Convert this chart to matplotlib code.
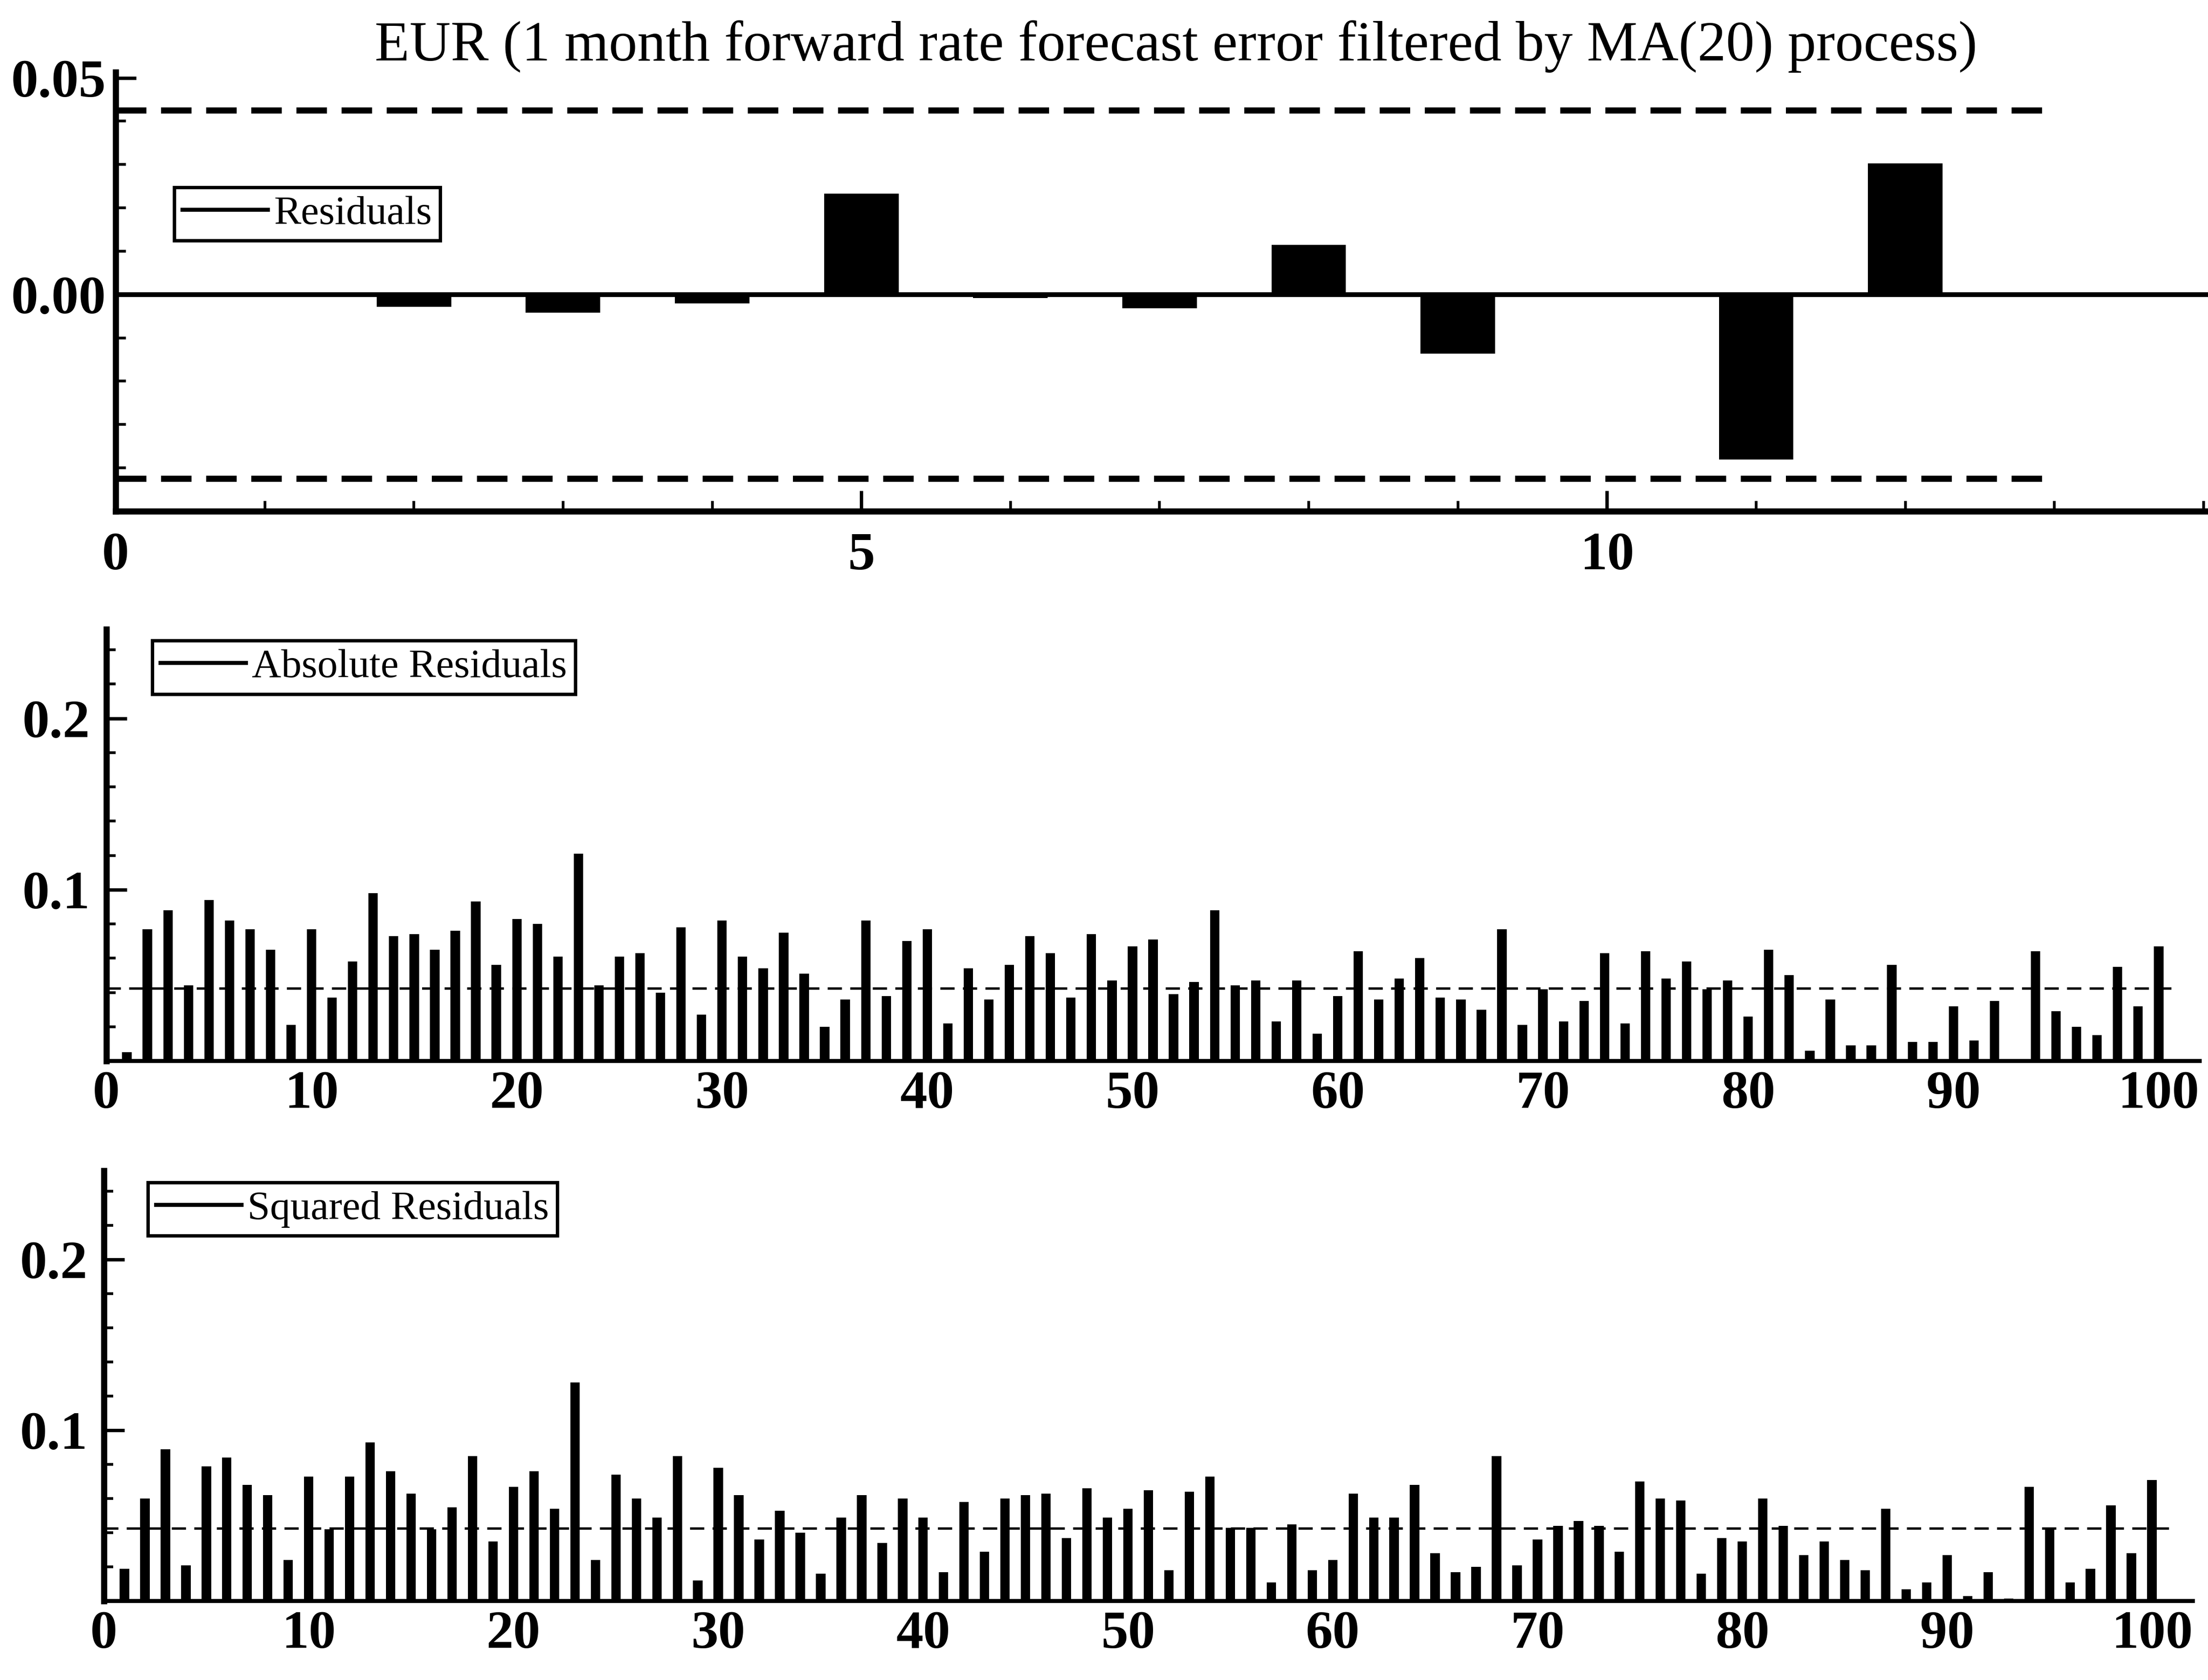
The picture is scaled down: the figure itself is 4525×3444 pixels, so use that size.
import matplotlib
matplotlib.use("Agg")
import matplotlib.pyplot as plt
from matplotlib.lines import Line2D
from matplotlib.ticker import MultipleLocator, FixedLocator, NullFormatter

plt.rcParams['font.family'] = ['Liberation Serif', 'DejaVu Serif']

TITLE = "EUR (1 month forward rate forecast error filtered by MA(20) process)"

# confidence band drawn as dashed lines
CONF_BAND = 0.0425

# residual autocorrelations, lags 1..13
resid_lags = list(range(1, 14))
resid_acf = [0.0003, -0.0028, -0.0042, -0.0020, 0.0233, -0.0008, -0.0032,
             0.0114, -0.0137, 0.0004, -0.0381, 0.0303, 0.0002]

# autocorrelations of absolute / squared residuals, lags 1..100
lags = list(range(1, 101))
abs_acf = [0.005, 0.077, 0.088, 0.044, 0.094, 0.082, 0.077, 0.065, 0.021, 0.077,
           0.037, 0.058, 0.098, 0.073, 0.074, 0.065, 0.076, 0.093, 0.056, 0.083,
           0.080, 0.061, 0.121, 0.044, 0.061, 0.063, 0.040, 0.078, 0.027, 0.082,
           0.061, 0.054, 0.075, 0.051, 0.020, 0.036, 0.082, 0.038, 0.070, 0.077,
           0.022, 0.054, 0.036, 0.056, 0.073, 0.063, 0.037, 0.074, 0.047, 0.067,
           0.071, 0.039, 0.046, 0.088, 0.044, 0.047, 0.023, 0.047, 0.016, 0.038,
           0.064, 0.036, 0.048, 0.060, 0.037, 0.036, 0.030, 0.077, 0.021, 0.042,
           0.023, 0.035, 0.063, 0.022, 0.064, 0.048, 0.058, 0.042, 0.047, 0.026,
           0.065, 0.050, 0.006, 0.036, 0.009, 0.009, 0.056, 0.011, 0.011, 0.032,
           0.012, 0.035, 0.001, 0.064, 0.029, 0.020, 0.015, 0.055, 0.032, 0.067]
sq_acf = [0.019, 0.060, 0.089, 0.021, 0.079, 0.084, 0.068, 0.062, 0.024, 0.073,
          0.042, 0.073, 0.093, 0.076, 0.063, 0.042, 0.055, 0.085, 0.035, 0.067,
          0.076, 0.054, 0.128, 0.024, 0.074, 0.060, 0.049, 0.085, 0.012, 0.078,
          0.062, 0.036, 0.053, 0.040, 0.016, 0.049, 0.062, 0.034, 0.060, 0.049,
          0.017, 0.058, 0.029, 0.060, 0.062, 0.063, 0.037, 0.066, 0.049, 0.054,
          0.065, 0.018, 0.064, 0.073, 0.043, 0.043, 0.011, 0.045, 0.018, 0.024,
          0.063, 0.049, 0.049, 0.068, 0.028, 0.017, 0.020, 0.085, 0.021, 0.036,
          0.044, 0.047, 0.044, 0.029, 0.070, 0.060, 0.059, 0.016, 0.037, 0.035,
          0.060, 0.044, 0.027, 0.035, 0.024, 0.018, 0.054, 0.007, 0.011, 0.027,
          0.003, 0.017, 0.0015, 0.067, 0.043, 0.011, 0.019, 0.056, 0.028, 0.071]

W, H, DPI = 4525, 3444, 100
fig = plt.figure(figsize=(W / DPI, H / DPI), dpi=DPI)
fig.patch.set_facecolor('white')


def px_rect(left, right, top, bottom):
    return [left / W, 1 - bottom / H, (right - left) / W, (bottom - top) / H]


TICK_FS = 80
LEG_FS = 60


def style_axes(ax, spine_lw=9):
    for s in ('top', 'right'):
        ax.spines[s].set_visible(False)
    ax.spines['left'].set_linewidth(spine_lw)
    ax.spines['bottom'].set_linewidth(spine_lw)
    ax.set_facecolor('white')
    for lab in ax.get_xticklabels() + ax.get_yticklabels():
        lab.set_fontweight('bold')
        lab.set_fontsize(TICK_FS)


def add_legend(ax, label, anchor):
    handle = Line2D([], [], color='black', lw=6)
    leg = ax.legend([handle], [label], loc='upper left', bbox_to_anchor=anchor,
                    frameon=True, fancybox=False, edgecolor='black', framealpha=1,
                    fontsize=LEG_FS, handlelength=2.1, handletextpad=0.15,
                    borderpad=0.2, borderaxespad=0)
    leg.get_frame().set_linewidth(5)
    return leg


# ---- top panel: residual autocorrelations ----
ax1 = fig.add_axes(px_rect(237, 4525, 148, 1048))
ax1.bar(resid_lags, resid_acf, width=0.5, color='black', linewidth=0, zorder=3)
ax1.plot([0, 14.03], [0, 0], color='black', lw=7, zorder=2, clip_on=False)
for level in (CONF_BAND, -CONF_BAND):
    ax1.plot([0, 13], [level, level], color='black', lw=9, dashes=(5, 2.4), zorder=2)
ax1.set_xlim(0, 14.03)
ax1.set_ylim(-0.05, 0.0513)
ax1.xaxis.set_major_locator(FixedLocator([0, 5, 10]))
ax1.xaxis.set_minor_locator(MultipleLocator(1))
ax1.set_xticklabels(['0', '5', '10'])
ax1.yaxis.set_major_locator(FixedLocator([0.0, 0.05]))
ax1.yaxis.set_minor_locator(MultipleLocator(0.01))
ax1.set_yticklabels(['0.00', '0.05'])
ax1.tick_params(axis='both', which='major', direction='in', length=30, width=5)
ax1.tick_params(axis='both', which='minor', direction='in', length=15, width=4)
ax1.tick_params(axis='x', which='major', pad=30)
ax1.tick_params(axis='y', which='major', pad=14)
style_axes(ax1, spine_lw=9)
add_legend(ax1, 'Residuals', (0.028, 0.738))

fig.text(2410 / W, 1 - 95 / H, TITLE, ha='center', va='center', fontsize=84)


def lower_panel(rect, values, label, anchor):
    ax = fig.add_axes(rect)
    ax.bar(lags, values, width=0.46, color='black', linewidth=0, zorder=3)
    ax.plot([0, 101], [CONF_BAND, CONF_BAND], color='black', lw=3.5,
            dashes=(6, 3.5), zorder=2)
    ax.set_xlim(0, 102)
    ax.set_ylim(0, 0.252)
    ax.xaxis.set_major_locator(FixedLocator(list(range(0, 101, 10))))
    ax.set_xticklabels([str(v) for v in range(0, 101, 10)])
    ax.yaxis.set_major_locator(FixedLocator([0.1, 0.2]))
    ax.yaxis.set_minor_locator(MultipleLocator(0.02))
    ax.yaxis.set_minor_formatter(NullFormatter())
    ax.set_yticklabels(['0.1', '0.2'])
    ax.tick_params(axis='y', which='major', direction='in', length=30, width=5, pad=24)
    ax.tick_params(axis='y', which='minor', direction='in', length=14, width=4)
    ax.tick_params(axis='x', which='major', direction='in', length=0, pad=14)
    style_axes(ax, spine_lw=9)
    ax.spines['bottom'].set_linewidth(6)
    add_legend(ax, label, anchor)
    return ax


ax2 = lower_panel(px_rect(218, 4508, 1290, 2175), abs_acf,
                  'Absolute Residuals', (0.0219, 0.974))
ax3 = lower_panel(px_rect(213, 4494, 2400, 3282), sq_acf,
                  'Squared Residuals', (0.021, 0.973))

fig.savefig('out.png', dpi=DPI, facecolor='white')
